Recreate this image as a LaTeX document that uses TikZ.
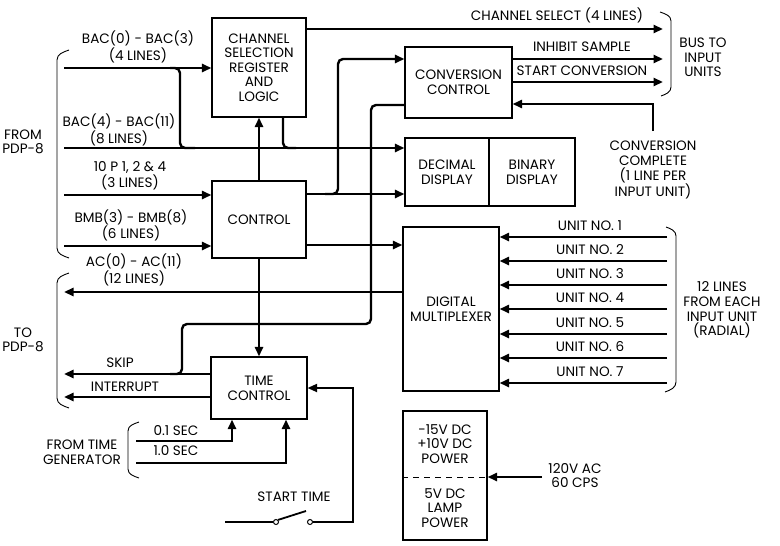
\documentclass[tikz,border=0pt]{standalone}
\usepackage{fontspec}
\setmainfont{Poppins}
\usetikzlibrary{arrows.meta,calc}
\newcommand\dgfont{\fontsize{13.6}{14.6}\selectfont}
\begin{document}
\begin{tikzpicture}[x=1pt,y=-1pt,
  box/.style={draw,line width=1.1pt,inner sep=0pt,align=center,font=\dgfont},
  conn/.style={line width=2.4pt,-{Triangle[length=9.5pt,width=8pt]}},
  wire/.style={line width=2.4pt},
  lbl/.style={inner sep=0pt,align=center,font=\dgfont},
  brace/.style={line width=0.9pt},
  sw/.style={circle,draw,line width=1pt,inner sep=0pt,minimum size=5pt,fill=white},
]
\useasboundingbox (0,0) rectangle (780,546);

% ---------------- boxes ----------------
\node[box,minimum width=94,minimum height=99] (csrl) at (259,67.5) {CHANNEL\\SELECTION\\REGISTER\\AND\\LOGIC};
\node[box,minimum width=94,minimum height=77] (ctrl) at (259,219.5) {CONTROL};
\node[box,minimum width=96,minimum height=62] (tctl) at (259,388) {TIME\\CONTROL};
\node[box,minimum width=107,minimum height=71] (conv) at (458.5,82.5) {CONVERSION\\CONTROL};
\node[box,minimum width=84,minimum height=68] (dec) at (447,172) {DECIMAL\\DISPLAY};
\node[box,minimum width=86,minimum height=68] (bin) at (532,172) {BINARY\\DISPLAY};
\node[box,minimum width=96,minimum height=164] (mux) at (451,309) {DIGITAL\\MULTIPLEXER};
\node[box,minimum width=84,minimum height=129] (pwr) at (445,475.5) {};
\node[lbl] (pwrA) at (445,444) {-15V DC\\+10V DC\\POWER};
\node[lbl] (pwrB) at (445,508) {5V DC\\LAMP\\POWER};
\draw[line width=0.9pt,dash pattern=on 6pt off 5pt] (pwr.west |- 0,477) -- (pwr.east |- 0,477);

% ---------------- free ends ----------------
\coordinate (bac0) at (64,68);
\coordinate (bac4) at (64,148);
\coordinate (tenp) at (64,195);
\coordinate (bmb) at (64,246);
\coordinate (acend) at (64,292);
\coordinate (skipend) at (64,374);
\coordinate (intend) at (64,397);
\coordinate (t01) at (136,441);
\coordinate (t10) at (136,463);
\coordinate (csend) at (663,29);
\coordinate (ihend) at (663,59);
\coordinate (scend) at (663,82);
\coordinate (ccend) at (653,131);
\coordinate (vac) at (542,477);
\coordinate (swA) at (225,522);
\coordinate (blade) at (306,511);

% ---------------- left inputs ----------------
\draw[conn] (bac0) -- (csrl.west |- 0,68);
\draw[wire,rounded corners=5] (170,68) -- (180,68) -- (180,148) -- (195,148);
\draw[conn] (bac4) -- (dec.west |- 0,148);
\draw[wire,rounded corners=5] (283,117) -- (283,148) -- (296,148);
\draw[conn] (tenp) -- (ctrl.west |- 0,195);
\draw[conn] (bmb) -- (ctrl.west |- 0,246);
\draw[conn] (mux.west |- 0,292) -- (acend);

% ---------------- control ----------------
\draw[conn] (ctrl.north) -- (csrl.south);
\draw[conn] (ctrl.south) -- (tctl.north);
\draw[conn] (ctrl.east |- 0,194) -- (dec.west |- 0,194);
\draw[conn,rounded corners=5] (325,194) -| (338,59) -- (conv.west |- 0,59);
\draw[conn] (ctrl.east |- 0,245) -- (mux.west |- 0,245);

% ---------------- skip / interrupt ----------------
\draw[wire,rounded corners=5] (conv.west |- 0,105) -- (371,105) -- (371,324) -- (182,324) -- (182,374) -- (170,374);
\draw[conn] (tctl.west |- 0,374) -- (skipend);
\draw[conn] (tctl.west |- 0,397) -- (intend);

% ---------------- time inputs ----------------
\draw[conn] (t01) -| (tctl.south -| 232,0);
\draw[conn] (t10) -| (tctl.south -| 286,0);
\node[sw] (s1) at (276,522) {};
\node[sw] (s2) at (310,522) {};
\draw[line width=1.8pt] (swA) -- (s1.west);
\draw[line width=1.8pt] (s1.north east) -- (blade);
\draw[conn,line width=1.8pt] (s2.east) -- (353,522) -- (353,388) -- (tctl.east |- 0,388);

% ---------------- right outputs ----------------
\draw[conn] (csrl.east |- 0,29) -- (csend);
\draw[conn] (conv.east |- 0,59) -- (ihend);
\draw[conn] (conv.east |- 0,82) -- (scend);
\draw[conn] (ccend) |- (conv.east |- 0,104);
\draw[conn] (vac) -- (pwr.east |- 0,477);

% ---------------- unit inputs ----------------
\foreach \yy/\k [count=\i] in {237/1,261/2,285/3,309/4,334/5,358/6,383/7}{
  \coordinate (u\i) at (667,\yy);
  \draw[conn] (u\i) -- (mux.east |- 0,\yy);
  \node[lbl] (ul\i) at (590,\yy-11) {UNIT NO. \k};
}

% ---------------- braces ----------------
\draw[brace] (69,50) to[out=200,in=90] (57,60) -- (57,248) to[out=-90,in=160] (69,258);
\draw[brace] (69,273) to[out=200,in=90] (57,283) -- (57,398) to[out=-90,in=160] (69,408);
\draw[brace] (139,422) to[out=200,in=90] (128,431) -- (128,469) to[out=-90,in=160] (139,478);
\draw[brace] (660,12) to[out=-20,in=90] (671,21) -- (671,87) to[out=-90,in=20] (661,96);
\draw[brace] (666,227) to[out=-20,in=90] (676,236) -- (676,382) to[out=-90,in=20] (665,392);

% ---------------- labels ----------------
\node[lbl] (l1) at (138,47) {BAC(0) - BAC(3)\\(4 LINES)};
\node[lbl] (l2) at (119,130) {BAC(4) - BAC(11)\\(8 LINES)};
\node[lbl] (l3) at (130,175.5) {10 P 1, 2 \& 4\\(3 LINES)};
\node[lbl] (l4) at (131,225.5) {BMB(3) - BMB(8)\\(6 LINES)};
\node[lbl] (l5) at (134,270) {AC(0) - AC(11)\\(12 LINES)};
\node[lbl] (l6) at (120,363) {SKIP};
\node[lbl] (l7) at (125,387) {INTERRUPT};
\node[lbl] (l8) at (23,142) {FROM\\PDP-8};
\node[lbl] (l9) at (23,340) {TO\\PDP-8};
\node[lbl] (l10) at (176,431) {0.1 SEC};
\node[lbl] (l11) at (176,451) {1.0 SEC};
\node[lbl] (l12) at (82,452) {FROM TIME\\GENERATOR};
\node[lbl] (l13) at (294,497) {START TIME};
\node[lbl] (l14) at (557,15) {CHANNEL SELECT (4 LINES)};
\node[lbl] (l15) at (582,47) {INHIBIT SAMPLE};
\node[lbl] (l16) at (582,71) {START CONVERSION};
\node[lbl] (l17) at (703,57.5) {BUS TO\\INPUT\\UNITS};
\node[lbl] (l18) at (653,170) {CONVERSION\\COMPLETE\\(1 LINE PER\\INPUT UNIT)};
\node[lbl] (l19) at (722,310) {12 LINES\\FROM EACH\\INPUT UNIT\\(RADIAL)};
\node[lbl] (l20) at (575,475.5) {120V AC\\60 CPS};
\end{tikzpicture}
\end{document}
